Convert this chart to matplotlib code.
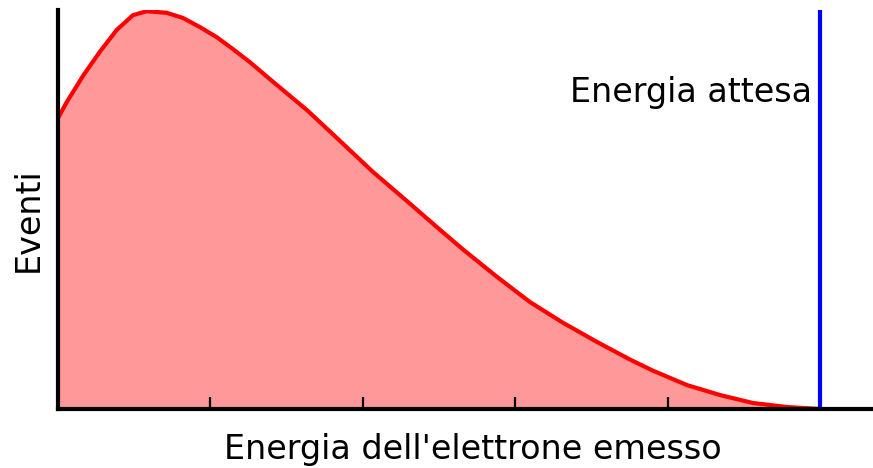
import numpy as np
import matplotlib
matplotlib.use('Agg')
import matplotlib.pyplot as plt

# spettro beta (energia in unita' arbitrarie, eventi 0-100)
energia = [0, 0.057, 0.166, 0.276, 0.385, 0.492, 0.582, 0.713, 0.820, 0.932,
           1.041, 1.148, 1.260, 1.411, 1.634, 1.850, 2.067, 2.290, 2.507,
           2.657, 2.881, 3.097, 3.314, 3.537, 3.753, 3.904, 4.127, 4.344,
           4.560, 4.783, 5.0]
eventi = [72.9, 76.9, 83.6, 89.6, 95.0, 98.7, 99.7, 99.3, 98.0, 95.7,
          93.2, 90.2, 86.9, 82.0, 74.9, 67.2, 59.4, 52.1, 44.9,
          40.0, 33.1, 26.8, 21.6, 16.8, 12.4, 9.6, 6.0, 3.5,
          1.5, 0.5, 0.0]
energia_attesa = 5.0
tacche = [1, 2, 3, 4, 5]

fig = plt.figure(figsize=(8.73, 4.68), dpi=100)
ax = fig.add_axes([58/873, 59/468, 815/873, 399/468])

ax.fill_between(energia, eventi, 0, color='#ff9999', lw=0)
ax.plot(energia, eventi, color='#ff0000', lw=3, solid_capstyle='round',
        solid_joinstyle='round')
ax.axvline(energia_attesa, color='#0000ff', lw=3)

ax.text(4.948, 79.4, 'Energia attesa', fontsize=24, ha='right', va='center')

ax.set_xlim(0, 815/152.4)
ax.set_ylim(0, 100)

for s in ['top', 'right']:
    ax.spines[s].set_visible(False)
for s in ['left', 'bottom']:
    ax.spines[s].set_linewidth(3)
    ax.spines[s].set_color('k')

ax.set_xticks(tacche)
ax.set_xticklabels([])
ax.tick_params(axis='x', direction='in', length=8.6, width=1.6, color='k')
ax.set_yticks([])

ax.set_xlabel("Energia dell'elettrone emesso", fontsize=24, va='center')
ax.xaxis.set_label_coords((473-58)/815, (409-450)/399)
ax.set_ylabel('Eventi', fontsize=24, va='center', ha='center')
ax.yaxis.set_label_coords((28-58)/815, (409-220)/399)

fig.savefig('out.png', dpi=100)
